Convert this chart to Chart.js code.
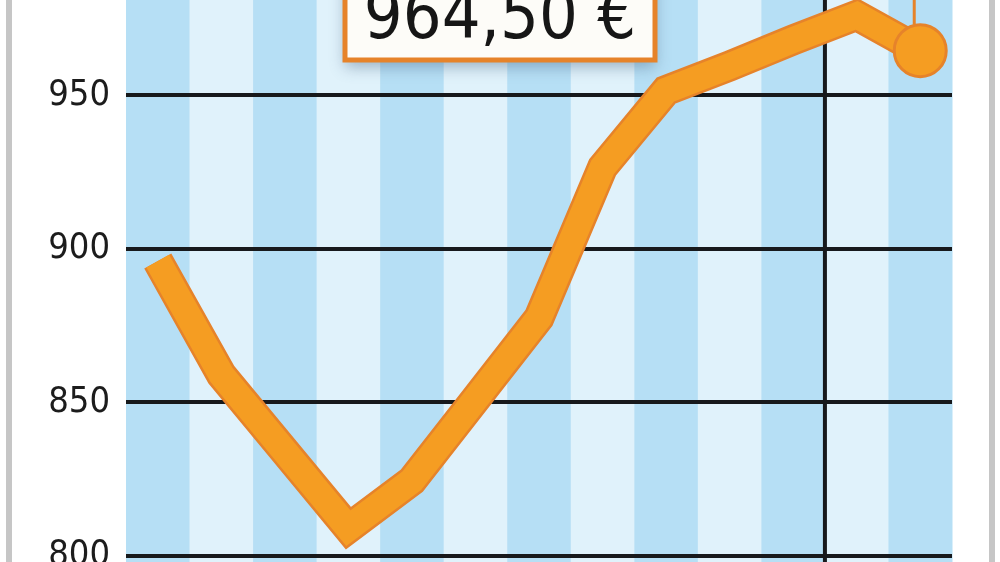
<!DOCTYPE html>
<html>
<head>
<meta charset="utf-8">
<script src="https://cdn.jsdelivr.net/npm/chart.js@4"></script>
<style>
    html, body { margin: 0; padding: 0; background: #ffffff; }
    #wrap { width: 1000px; height: 562px; position: relative; }
</style>
</head>
<body>
<div id="wrap"><canvas id="price_chart"></canvas></div>
<script>
// one point per stripe (weekly prices, euro)
var weekLabels = ['W1', 'W2', 'W3', 'W4', 'W5', 'W6', 'W7', 'W8', 'W9', 'W10', 'W11', 'W12', 'W13'];
var priceData = [896, 859, 834, 809, 824.5, 851, 877.5, 926.5, 951.5, 959.5, 968, 976, 964.5];
var yTickValues = [800, 850, 900, 950];
var breakAfterIndex = 10; // black vertical divider sits after this week

var stripeDark = '#b6dff5';
var stripeLight = '#e0f2fb';
var orangeMain = '#f59d22';
var orangeEdge = '#e6832a';

// background stripes, divider, frame bars
var backdropPlugin = {
    id: 'backdrop',
    beforeDraw: function (chart) {
        var ctx = chart.ctx;
        var area = chart.chartArea;
        var x = chart.scales.x;
        var step = x.getPixelForValue(1) - x.getPixelForValue(0);
        ctx.save();
        for (var i = 0; i < weekLabels.length; i++) {
            var c = x.getPixelForValue(i);
            ctx.fillStyle = (i % 2 === 0) ? stripeDark : stripeLight;
            ctx.fillRect(c - step / 2, area.top, step + 0.5, area.bottom - area.top);
        }
        // frame bars at the page edges
        ctx.fillStyle = '#c6c6c6';
        ctx.fillRect(6, 0, 6, chart.height);
        ctx.fillRect(989, 0, 6, chart.height);
        ctx.restore();
    },
    beforeDatasetsDraw: function (chart) {
        var ctx = chart.ctx;
        var area = chart.chartArea;
        var x = chart.scales.x;
        var xb = (x.getPixelForValue(breakAfterIndex) + x.getPixelForValue(breakAfterIndex + 1)) / 2;
        ctx.save();
        ctx.strokeStyle = '#17191c';
        ctx.lineWidth = 4;
        ctx.beginPath();
        ctx.moveTo(xb, area.top);
        ctx.lineTo(xb, area.bottom);
        ctx.stroke();
        ctx.restore();
    }
};

// price callout box for the latest value
var calloutPlugin = {
    id: 'callout',
    afterDraw: function (chart) {
        var ctx = chart.ctx;
        var last = priceData.length - 1;
        var px = chart.scales.x.getPixelForValue(last);
        var py = chart.scales.y.getPixelForValue(priceData[last]);
        var text = priceData[last].toFixed(2).replace('.', ',') + ' \u20ac';

        ctx.save();
        // thin connector from the top down to the marker
        ctx.strokeStyle = orangeEdge;
        ctx.lineWidth = 3;
        ctx.beginPath();
        ctx.moveTo(px - 6, 0);
        ctx.lineTo(px - 6, py - 26);
        ctx.stroke();

        var bx = 345, by = -40, bw = 310, bh = 100;
        ctx.shadowColor = 'rgba(70, 100, 130, 0.45)';
        ctx.shadowBlur = 14;
        ctx.shadowOffsetY = 7;
        ctx.fillStyle = '#fdfcf8';
        ctx.fillRect(bx, by, bw, bh);
        ctx.shadowColor = 'transparent';
        ctx.strokeStyle = orangeEdge;
        ctx.lineWidth = 5;
        ctx.strokeRect(bx, by, bw, bh);

        ctx.fillStyle = '#161616';
        ctx.font = '68px "DejaVu Sans Condensed", "DejaVu Sans"';
        ctx.textAlign = 'center';
        ctx.textBaseline = 'alphabetic';
        ctx.fillText(text, bx + bw / 2, 38);
        ctx.restore();
    }
};

var price_ctx = document.getElementById('price_chart').getContext('2d');
var price_chart = new Chart(price_ctx, {
    type: 'line',
    data: {
        labels: weekLabels,
        datasets: [{
            label: 'edge',
            data: priceData,
            borderColor: orangeEdge,
            borderWidth: 31,
            borderJoinStyle: 'miter',
            borderCapStyle: 'butt',
            pointRadius: 0,
            tension: 0,
            clip: false,
            order: 2
        }, {
            label: 'price',
            data: priceData,
            borderColor: orangeMain,
            borderWidth: 26,
            borderJoinStyle: 'miter',
            borderCapStyle: 'butt',
            pointRadius: function (c) {
                return c.dataIndex === priceData.length - 1 ? 26 : 0;
            },
            pointBackgroundColor: orangeMain,
            pointBorderColor: orangeEdge,
            pointBorderWidth: 3,
            tension: 0,
            clip: false,
            order: 1
        }]
    },
    plugins: [backdropPlugin, calloutPlugin],
    options: {
        responsive: true,
        maintainAspectRatio: false,
        animation: false,
        layout: {
            autoPadding: false,
            padding: { left: 0, right: 48, top: 0, bottom: 0 }
        },
        plugins: {
            legend: { display: false },
            tooltip: { enabled: false },
            title: { display: false }
        },
        scales: {
            x: {
                type: 'category',
                offset: true,
                display: true,
                grid: { display: false, drawTicks: false },
                border: { display: false },
                ticks: { display: false },
                afterFit: function (axis) {
                    axis.height = 0;
                    axis.paddingLeft = 0;
                    axis.paddingRight = 0;
                }
            },
            y: {
                min: 798,
                max: 981,
                afterBuildTicks: function (axis) {
                    axis.ticks = yTickValues.map(function (v) { return { value: v }; });
                },
                afterFit: function (axis) {
                    axis.width = 126;
                    axis.paddingTop = 0;
                    axis.paddingBottom = 0;
                },
                grid: {
                    color: '#17191c',
                    lineWidth: 4,
                    drawTicks: false
                },
                border: { display: false },
                ticks: {
                    padding: 16,
                    color: '#1c1c1c',
                    font: {
                        family: '"DejaVu Sans Condensed", sans-serif',
                        size: 36
                    }
                }
            }
        }
    }
});
</script>
</body>
</html>
